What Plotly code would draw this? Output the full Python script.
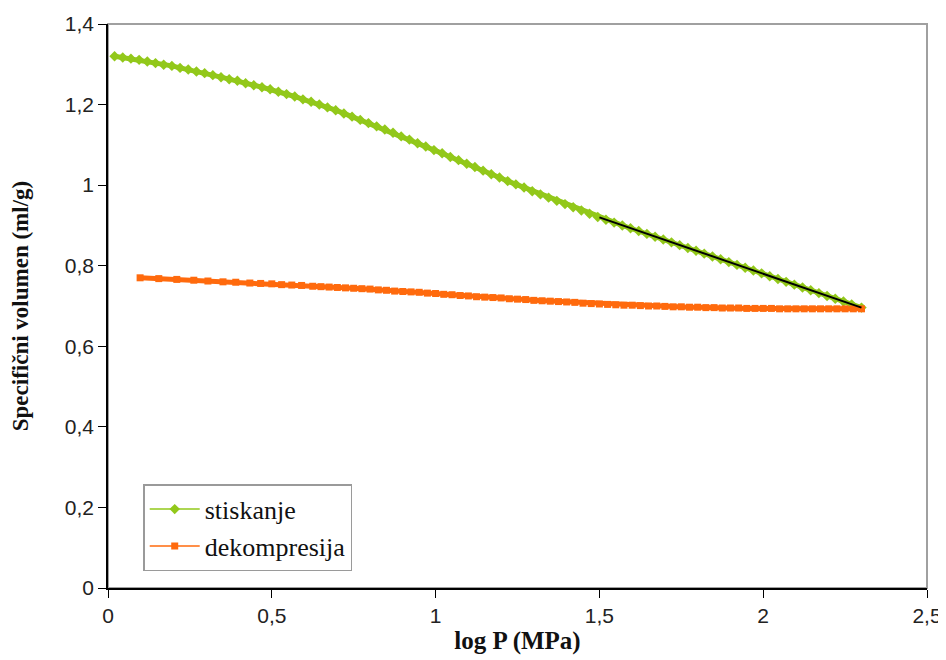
import plotly.graph_objects as go

# stiskanje (compression)
comp_x = [0.020, 0.045, 0.070, 0.095, 0.120, 0.145, 0.170, 0.195, 0.220, 0.245,
          0.270, 0.295, 0.320, 0.345, 0.370, 0.395, 0.420, 0.445, 0.470, 0.495,
          0.520, 0.545, 0.570, 0.595, 0.620, 0.645, 0.670, 0.695, 0.720, 0.745,
          0.770, 0.795, 0.820, 0.845, 0.870, 0.895, 0.920, 0.945, 0.970, 0.995,
          1.020, 1.045, 1.070, 1.095, 1.120, 1.145, 1.170, 1.195, 1.220, 1.245,
          1.270, 1.295, 1.320, 1.345, 1.370, 1.395, 1.420, 1.445, 1.470, 1.495,
          1.520, 1.545, 1.570, 1.595, 1.620, 1.645, 1.670, 1.695, 1.720, 1.745,
          1.770, 1.795, 1.820, 1.845, 1.870, 1.895, 1.920, 1.945, 1.970, 1.995,
          2.020, 2.045, 2.070, 2.095, 2.120, 2.145, 2.170, 2.195, 2.220, 2.245,
          2.270, 2.300]
comp_y = [1.320, 1.317, 1.314, 1.311, 1.307, 1.303, 1.299, 1.296, 1.291, 1.287,
          1.282, 1.278, 1.273, 1.268, 1.263, 1.259, 1.253, 1.248, 1.243, 1.238,
          1.232, 1.226, 1.220, 1.213, 1.207, 1.200, 1.193, 1.186, 1.178, 1.170,
          1.162, 1.154, 1.146, 1.138, 1.130, 1.121, 1.113, 1.104, 1.096, 1.087,
          1.079, 1.070, 1.062, 1.053, 1.045, 1.036, 1.027, 1.019, 1.010, 1.002,
          0.994, 0.985, 0.977, 0.969, 0.961, 0.953, 0.945, 0.937, 0.929, 0.921,
          0.914, 0.907, 0.900, 0.893, 0.886, 0.879, 0.872, 0.865, 0.858, 0.851,
          0.844, 0.837, 0.830, 0.823, 0.816, 0.809, 0.802, 0.795, 0.788, 0.781,
          0.774, 0.767, 0.760, 0.753, 0.746, 0.739, 0.732, 0.725, 0.718, 0.711,
          0.704, 0.696]

# dekompresija (decompression)
dec_x = [0.098, 0.155, 0.210, 0.262, 0.305, 0.351, 0.390, 0.433, 0.466, 0.500,
         0.530, 0.561, 0.591, 0.625, 0.650, 0.675, 0.700, 0.725, 0.750, 0.775,
         0.800, 0.825, 0.850, 0.875, 0.900, 0.925, 0.950, 0.975, 1.000, 1.025,
         1.050, 1.075, 1.100, 1.125, 1.150, 1.175, 1.200, 1.225, 1.250, 1.275,
         1.300, 1.325, 1.350, 1.375, 1.400, 1.425, 1.450, 1.475, 1.500, 1.525,
         1.550, 1.575, 1.600, 1.625, 1.650, 1.675, 1.700, 1.725, 1.750, 1.775,
         1.800, 1.825, 1.850, 1.875, 1.900, 1.925, 1.950, 1.975, 2.000, 2.025,
         2.050, 2.075, 2.100, 2.125, 2.150, 2.175, 2.200, 2.225, 2.250, 2.275,
         2.300]
dec_y = [0.770, 0.768, 0.766, 0.764, 0.762, 0.760, 0.759, 0.757, 0.756, 0.755,
         0.753, 0.752, 0.751, 0.749, 0.748, 0.747, 0.746, 0.745, 0.744, 0.743,
         0.742, 0.740, 0.739, 0.737, 0.736, 0.735, 0.734, 0.732, 0.731, 0.729,
         0.728, 0.726, 0.725, 0.723, 0.722, 0.721, 0.720, 0.718, 0.717, 0.716,
         0.714, 0.713, 0.712, 0.711, 0.710, 0.709, 0.707, 0.706, 0.705, 0.704,
         0.703, 0.702, 0.702, 0.701, 0.700, 0.700, 0.699, 0.698, 0.698, 0.697,
         0.697, 0.696, 0.696, 0.695, 0.695, 0.695, 0.694, 0.694, 0.694, 0.694,
         0.693, 0.693, 0.693, 0.693, 0.693, 0.693, 0.693, 0.693, 0.693, 0.693,
         0.693]

# linear fit segment
fit_x = [1.50, 2.30]
fit_y = [0.920, 0.696]

GREEN = "#92C81A"
ORANGE = "#FF6A0D"

fig = go.Figure()
# thick underlay to merge dense markers
fig.add_trace(go.Scatter(x=comp_x, y=comp_y, mode="lines", showlegend=False,
                         line=dict(color=GREEN, width=5), hoverinfo="skip"))
fig.add_trace(go.Scatter(x=comp_x, y=comp_y, mode="lines+markers", name="stiskanje",
                         line=dict(color=GREEN, width=1.5),
                         marker=dict(symbol="diamond", size=8, color=GREEN)))
fig.add_trace(go.Scatter(x=dec_x, y=dec_y, mode="lines", showlegend=False,
                         line=dict(color=ORANGE, width=5), hoverinfo="skip"))
fig.add_trace(go.Scatter(x=dec_x, y=dec_y, mode="lines+markers", name="dekompresija",
                         line=dict(color=ORANGE, width=1.5),
                         marker=dict(symbol="square", size=7, color=ORANGE)))
fig.add_trace(go.Scatter(x=fit_x, y=fit_y, mode="lines", showlegend=False,
                         line=dict(color="black", width=2)))

fig.add_shape(type="rect", xref="paper", yref="paper", x0=0, y0=0, x1=1, y1=1,
              line=dict(color="#A0A0A0", width=2), layer="below")

fig.update_layout(
    width=938, height=652,
    margin=dict(l=100, r=19, t=16, b=72, autoexpand=False),
    paper_bgcolor="white", plot_bgcolor="white",
    separators=",.",
    font=dict(family="Liberation Sans, Arial, sans-serif", size=21, color="#222"),
    legend=dict(x=0.043, y=0.184, xanchor="left", yanchor="top",
                bgcolor="white", bordercolor="#9A9A9A", borderwidth=1.5,
                font=dict(family="Liberation Serif, Times New Roman, serif", size=26, color="#111"),
                tracegroupgap=0, itemwidth=50),
    xaxis=dict(range=[0, 2.5], dtick=0.5, tick0=0, showgrid=False, zeroline=False,
               automargin=False,
               showline=True, linecolor="black", linewidth=1.5,
               ticks="outside", ticklen=8, tickcolor="black",
               tickfont=dict(size=21, color="#222"),
               title=dict(text="<b>log P (MPa)</b>", standoff=6,
                          font=dict(family="Liberation Serif, Times New Roman, serif", size=25, color="#111"))),
    yaxis=dict(range=[0, 1.4], dtick=0.2, tick0=0, showgrid=False, zeroline=False,
               automargin=False,
               showline=True, linecolor="black", linewidth=1.5,
               ticks="outside", ticklen=8, tickcolor="black",
               tickfont=dict(size=21, color="#222"),
               title=dict(text="<b>Specifični volumen (ml/g)</b>", standoff=34,
                          font=dict(family="Liberation Serif, Times New Roman, serif", size=23, color="#111"))),
)

fig.write_html("out.html")
